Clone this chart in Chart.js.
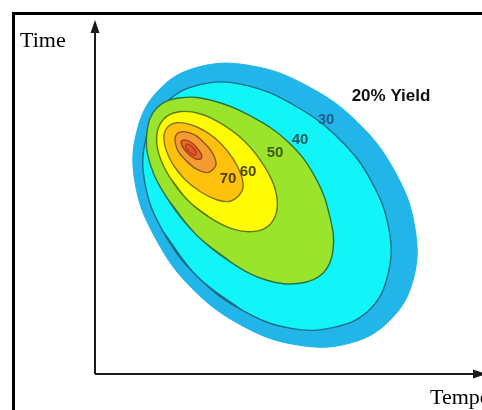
<!DOCTYPE html>
<html>
<head>
<meta charset="utf-8">
<script src="https://cdn.jsdelivr.net/npm/chart.js@4.4.1/dist/chart.umd.min.js"></script>
<style>
  html, body { margin: 0; padding: 0; background: #fff; overflow: hidden; }
  #frame { position: absolute; left: 12px; top: 12px; width: 540px; height: 460px; border: 3px solid #000; }
  #yield-chart { position: absolute; left: 0; top: 0; }
</style>
</head>
<body>
<div id="frame"></div>
<canvas id="yield-chart" width="482" height="410"></canvas>
<script>
// contour outlines as [temperature, time] pairs (arbitrary units)
// each loop starts one point early and runs two points past its start so the join stays smooth
const yield20 = [[148,48],[97,86],[60,137],[40,192],[42,244],[64,285],[104,308],[157,309],[212,289],[263,252],[301,201],[320,146],[318,94],[295,54],[255,31],[203,29],[148,48],[97,86],[60,137]];
const yield30 = [[147,64],[102,98],[68,143],[50,191],[51,236],[70,271],[104,290],[149,290],[200,269],[245,235],[276,194],[294,145],[293,100],[275,65],[240,47],[195,46],[147,64],[102,98],[68,143]];
const yield40 = [[136,112],[101,140],[73,175],[55,211],[52,243],[62,267],[86,277],[118,274],[155,259],[194,232],[221,196],[235,157],[238,124],[228,101],[205,91],[172,94],[136,112],[101,140],[73,175]];
const yield50 = [[116,156],[93,174],[75,197],[64,220],[62,241],[69,256],[84,263],[105,261],[128,250],[151,232],[169,209],[180,186],[182,165],[175,150],[160,143],[139,145],[116,156],[93,174],[75,197]];
const yield60 = [[105,183],[90,195],[78,210],[71,225],[69,239],[73,248],[82,252],[96,250],[111,243],[126,231],[138,216],[146,200],[148,187],[143,178],[134,173],[121,175],[105,183],[90,195],[78,210]];
const yield70 = [[99,207],[91,214],[84,222],[81,229],[80,236],[82,241],[87,243],[94,242],[101,239],[109,232],[116,224],[120,216],[121,210],[118,205],[113,202],[107,203],[99,207],[91,214],[84,222]];
const yield80 = [[100,216],[93,221],[87,229],[87,234],[93,234],[100,229],[106,221],[106,216],[100,216],[93,221],[87,229]];
const yield90 = [[98,220],[94,223],[91,227],[91,230],[94,230],[98,227],[101,223],[101,220],[98,220],[94,223],[91,227]];

const contours = [yield20, yield30, yield40, yield50, yield60, yield70, yield80, yield90];
const levels = ['20%', '30%', '40%', '50%', '60%', '70%', '80%', '90%'];

// label text and where it sits, in the same units
const labelText = ['20% Yield', '30', '40', '50', '60', '70'];
const labelTemp = [296, 231, 205, 180, 153, 133];
const labelTime = [278, 255, 235, 222, 203, 196];

const axisMax = { temp: 387, time: 353 };

const fillColors = ['#21b5ea', '#12f5f8', '#9ae52b', '#fffb05', '#ffc20c', '#f59b2f', '#e8692a', '#e05a28'];
const lineColors = ['#21b5ea', '#1b6d86', '#2f7040', '#5f7a12', '#86731a', '#8a5a1c', '#9a4420', '#b8381c'];
const labelColors = ['#111111', '#1d5f8a', '#1d5a5e', '#3d5c0c', '#54460e', '#54400e'];

const toPoints = arr => arr.map(p => ({ x: p[0], y: p[1] }));

const datasets = contours.map((c, i) => ({
    label: levels[i],
    data: toPoints(c),
    showLine: true,
    fill: 'shape',
    backgroundColor: fillColors[i],
    borderColor: lineColors[i],
    borderWidth: i === 0 ? 1 : 1.4,
    tension: 0.4,
    pointRadius: 0,
    order: contours.length - i
}));

const axesPlugin = {
    id: 'yieldAxes',
    afterDraw(chart) {
        const ctx = chart.ctx;
        const area = chart.chartArea;
        const xs = chart.scales.x;
        const ys = chart.scales.y;
        const left = area.left;
        const bottom = area.bottom;
        ctx.save();
        ctx.strokeStyle = '#1a1a1a';
        ctx.fillStyle = '#1a1a1a';
        ctx.lineWidth = 2;
        // vertical axis with arrow
        ctx.beginPath();
        ctx.moveTo(left, bottom);
        ctx.lineTo(left, area.top + 8);
        ctx.stroke();
        ctx.beginPath();
        ctx.moveTo(left, area.top - 2);
        ctx.lineTo(left - 4.5, area.top + 11);
        ctx.lineTo(left + 4.5, area.top + 11);
        ctx.closePath();
        ctx.fill();
        // horizontal axis with arrow
        ctx.beginPath();
        ctx.moveTo(left, bottom);
        ctx.lineTo(area.right - 6, bottom);
        ctx.stroke();
        ctx.beginPath();
        ctx.moveTo(area.right + 4, bottom);
        ctx.lineTo(area.right - 9, bottom - 4.5);
        ctx.lineTo(area.right - 9, bottom + 4.5);
        ctx.closePath();
        ctx.fill();

        // axis titles
        ctx.fillStyle = '#000';
        ctx.font = '22px "Liberation Serif", "Times New Roman", serif';
        ctx.textAlign = 'left';
        ctx.textBaseline = 'alphabetic';
        ctx.fillText('Time', 20, 47);
        ctx.fillText('Temperature', 430, 404);

        // contour labels
        ctx.textAlign = 'center';
        ctx.textBaseline = 'middle';
        labelText.forEach((t, i) => {
            ctx.font = i === 0 ? 'bold 17px "Liberation Sans", Arial, sans-serif' : 'bold 15px "Liberation Sans", Arial, sans-serif';
            ctx.fillStyle = labelColors[i];
            ctx.fillText(t, xs.getPixelForValue(labelTemp[i]), ys.getPixelForValue(labelTime[i]));
        });
        ctx.restore();
    }
};

const chart = new Chart(document.getElementById('yield-chart').getContext('2d'), {
    type: 'scatter',
    data: { datasets: datasets },
    options: {
        responsive: false,
        animation: false,
        events: [],
        layout: { padding: { left: 95, top: 22, right: 0, bottom: 36 } },
        plugins: { legend: { display: false }, tooltip: { enabled: false } },
        scales: {
            x: { type: 'linear', min: 0, max: axisMax.temp, display: false },
            y: { type: 'linear', min: 0, max: axisMax.time, display: false }
        }
    },
    plugins: [axesPlugin]
});
</script>
</body>
</html>
